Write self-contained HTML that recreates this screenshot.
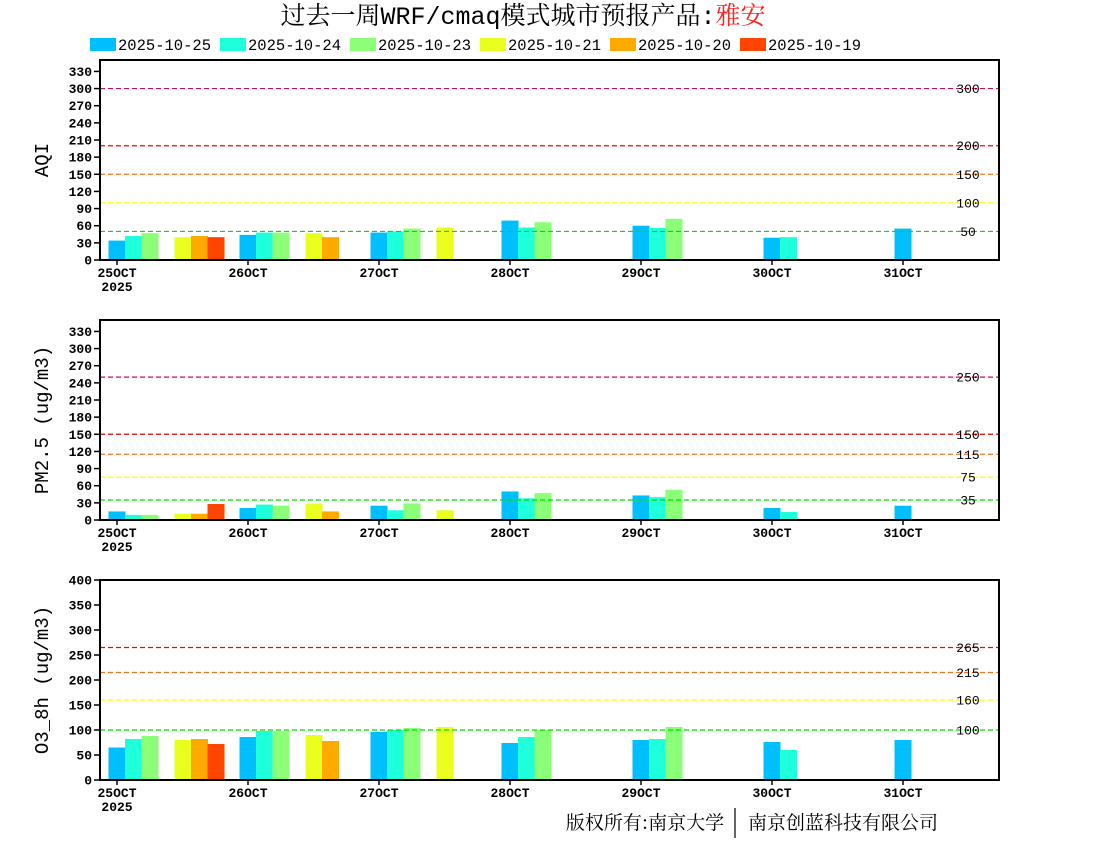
<!DOCTYPE html>
<html><head><meta charset="utf-8">
<style>
html,body{margin:0;padding:0;background:#fff;}
svg{display:block;font-family:"Liberation Mono","Noto Serif CJK SC",monospace;}
</style></head>
<body>
<svg id="c" width="1100" height="850" viewBox="0 0 1100 850" xmlns="http://www.w3.org/2000/svg">
<text x="523" y="24" text-anchor="middle" font-size="25" font-family="Liberation Mono, Noto Serif CJK SC, serif">过去一周WRF/cmaq模式城市预报产品:<tspan fill="#ff2020">雅安</tspan></text>
<g id="legend"></g>
<g id="panels"></g>
<text x="645" y="829" text-anchor="middle" font-size="19" font-family="Noto Serif CJK SC, serif">版权所有:南京大学</text>
<line x1="735" y1="808" x2="735" y2="838" stroke="#000" stroke-width="1.2"/>
<text x="843" y="829" text-anchor="middle" font-size="19" font-family="Noto Serif CJK SC, serif">南京创蓝科技有限公司</text>
</svg>
<script>
const series = ["2025-10-25","2025-10-24","2025-10-23","2025-10-21","2025-10-20","2025-10-19"];
const seriesSlot = [0,1,2,4,5,6];
const colors = ["#00bfff","#1effdc","#8cff78","#eaff1e","#ffaa00","#ff4500"];
const days = [25,26,27,28,29,30,31];
const dayLabels = ["25OCT","26OCT","27OCT","28OCT","29OCT","30OCT","31OCT"];
const aqi = [
 [34,44,48,69,60,39,55],
 [42,48,50,57,56,40,null],
 [47,48,55,66,72,null,null],
 [40,47,57,null,null,null,null],
 [42,40,null,null,null,null,null],
 [40,null,null,null,null,null,null]];
const pm25 = [
 [15,21,25,50,43,21,25],
 [9,27,17,38,40,14,null],
 [9,25,29,47,53,null,null],
 [11,29,17,null,null,null,null],
 [11,15,null,null,null,null,null],
 [28,null,null,null,null,null,null]];
const o3 = [
 [65,86,96,74,80,76,80],
 [82,98,100,86,82,60,null],
 [88,98,104,100,106,null,null],
 [80,90,106,null,null,null,null],
 [82,78,null,null,null,null,null],
 [72,null,null,null,null,null,null]];
const aqiTicks = [0,30,60,90,120,150,180,210,240,270,300,330];
const pmTicks = [0,30,60,90,120,150,180,210,240,270,300,330];
const o3Ticks = [0,50,100,150,200,250,300,350,400];
const aqiRefs = [300,200,150,100,50];
const aqiRefColors = ["#c8105a","#ff0000","#ee7722","#ffff00","#00dd00"];
const pmRefs = [250,150,115,75,35];
const pmRefColors = ["#d4006e","#dd0000","#ee7722","#ffff00","#00dd00"];
const o3Refs = [265,215,160,100];
const o3RefColors = ["#ff0000","#ee7722","#ffff00","#00dd00"];

const NS="http://www.w3.org/2000/svg";
const svg=document.getElementById('c');
function mk(tag,attrs,parent){const e=document.createElementNS(NS,tag);for(const k in attrs)e.setAttribute(k,attrs[k]);(parent||svg).appendChild(e);return e;}

const lg=document.getElementById('legend');
series.forEach((s,i)=>{
  const x=90+130*i;
  const r=mk('rect',{x:x,y:38,width:26,height:13,fill:colors[i]},lg);
  
  
  const t=mk('text',{x:x+28,y:50,'font-size':15.5},lg);
  t.textContent=s;
  
  
});

const X0=100,X1=999,dayPx=131,day0x=117,slotW=16.5;
function xDay(d){return day0x+(d-25)*dayPx;}

function panel(name,top,ymax,ticks,vals,refs,refColors,ylabel){
  const g=mk('g',{},document.getElementById('panels'));
  
  
  const bot=top+200;
  const y=v=>bot-v/ymax*200;
  vals.forEach((arr,si)=>{
    arr.forEach((v,di)=>{
      if(v==null)return;
      const cx=xDay(days[di])+seriesSlot[si]*slotW;
      const r=mk('rect',{x:cx-8.5,y:y(v),width:17,height:bot-y(v),fill:colors[si]},g);
      
      
    });
  });
  refs.forEach((rv,i)=>{
    const l=mk('line',{x1:X0,x2:X1,y1:y(rv),y2:y(rv),stroke:refColors[i],'stroke-width':1.2,'stroke-dasharray':'5,3'},g);
    
    
    const t=mk('text',{x:968,y:y(rv)+4.5,'text-anchor':'middle','font-size':13},g);
    t.textContent=rv;
    
    
  });
  const f=mk('rect',{x:X0,y:top,width:X1-X0,height:200,fill:'none',stroke:'#000','stroke-width':2},g);
  
  
  ticks.forEach(tv=>{
    const l=mk('line',{x1:X0-6,x2:X0,y1:y(tv),y2:y(tv),stroke:'#000','stroke-width':1.5},g);
    
    
    const t=mk('text',{x:X0-8,y:y(tv)+4.5,'text-anchor':'end','font-size':13,'font-weight':'bold'},g);
    t.textContent=tv;
    
    
  });
  days.forEach((d,i)=>{
    const l=mk('line',{x1:xDay(d),x2:xDay(d),y1:bot,y2:bot+5,stroke:'#000','stroke-width':1.5},g);
    
    
    const t=mk('text',{x:xDay(d),y:bot+17,'text-anchor':'middle','font-size':13,'font-weight':'bold'},g);
    t.textContent=dayLabels[i];
    
    
  });
  const yr=mk('text',{x:xDay(25),y:bot+31,'text-anchor':'middle','font-size':13,'font-weight':'bold'},g);
  yr.textContent='2025';
  
  
  const yl=mk('text',{x:0,y:0,'text-anchor':'middle','font-size':19,transform:`translate(48,${top+100}) rotate(-90)`},g);
  yl.textContent=ylabel;
  
  
}
panel('aqi',60,350,aqiTicks,aqi,aqiRefs,aqiRefColors,'AQI');
panel('pm25',320,350,pmTicks,pm25,pmRefs,pmRefColors,'PM2.5 (ug/m3)');
panel('o3',580,400,o3Ticks,o3,o3Refs,o3RefColors,'O3_8h (ug/m3)');
</script>
</body></html>
